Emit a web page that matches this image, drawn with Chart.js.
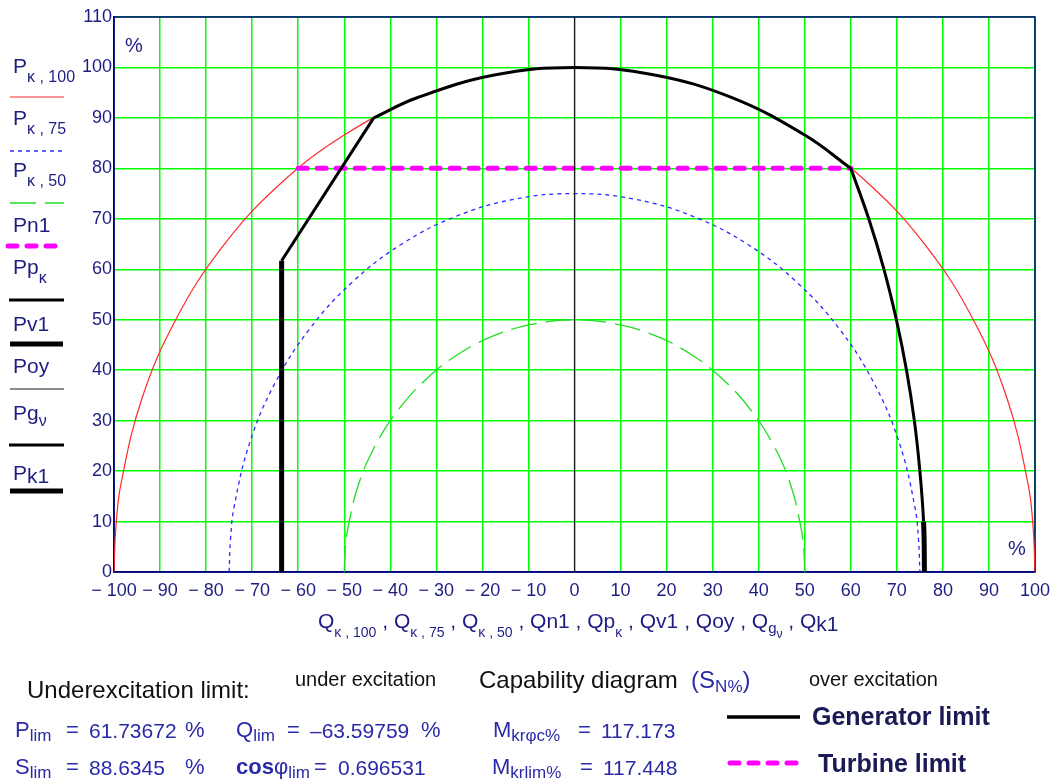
<!DOCTYPE html>
<html>
<head>
<meta charset="utf-8">
<script src="https://cdn.jsdelivr.net/npm/chart.js@4/dist/chart.umd.min.js"></script>
<style>
  body { margin: 0; background: #fff; }
  #wrap { position: relative; width: 1061px; height: 780px; overflow: hidden; font-family: "Liberation Sans", Arial, sans-serif; }
  #chart { position: absolute; left: 0; top: 0; }
  .t { position: absolute; white-space: pre; line-height: 1; }
  .navy { color: #1e1e82; }
  .blue { color: #2a2aa8; }
  .dark { color: #111; }
  .lg { font-size: 21px; }
  .s { font-size: 14px; position: relative; top: 9px; }
  .sl { font-size: 16px; position: relative; top: 9px; }
  .s2 { font-size: 17px; position: relative; top: 4px; }
  .s3 { font-size: 12px; position: relative; top: 5px; }
  .v { font-size: 22px; }
  .n { font-size: 21px; }
  .gl { font-size: 25px; font-weight: bold; color: #1a1a55; }
</style>
</head>
<body>
<div id="wrap">
  <canvas id="chart" width="1061" height="780"></canvas>

  <!-- left legend labels -->
  <div class="t navy lg" style="left:13px;top:55px">P<span class="sl">κ , 100</span></div>
  <div class="t navy lg" style="left:13px;top:107px">P<span class="sl">κ , 75</span></div>
  <div class="t navy lg" style="left:13px;top:159px">P<span class="sl">κ , 50</span></div>
  <div class="t navy lg" style="left:13px;top:214px">Pn1</div>
  <div class="t navy lg" style="left:13px;top:256px">Pp<span class="sl">κ</span></div>
  <div class="t navy lg" style="left:13px;top:313px">Pv1</div>
  <div class="t navy lg" style="left:13px;top:355px">Poy</div>
  <div class="t navy lg" style="left:13px;top:402px">Pg<span class="s3" style="top:6px;font-size:16px">ν</span></div>
  <div class="t navy lg" style="left:13px;top:462px">P<span style="position:relative;top:3px">k1</span></div>

  <!-- percent marks in the plot -->
  <div class="t navy" style="left:125px;top:35px;font-size:20px">%</div>
  <div class="t navy" style="left:1008px;top:538px;font-size:20px">%</div>

  <!-- x axis title -->
  <div class="t navy lg" style="left:318px;top:610px">Q<span class="s">κ , 100</span> , Q<span class="s">κ , 75</span> , Q<span class="s">κ , 50</span> , Qn1 , Qp<span class="s">κ</span> , Qv1 , Qoy , Q<span class="s" style="top:5px;font-size:15px">g</span><span class="s3" style="top:10px">ν</span> , Q<span style="position:relative;top:3px">k1</span></div>

  <!-- bottom notes -->
  <div class="t dark" style="left:27px;top:678px;font-size:24px">Underexcitation limit:</div>
  <div class="t dark" style="left:295px;top:669px;font-size:20px">under excitation</div>
  <div class="t dark" style="left:479px;top:668px;font-size:24px">Capability diagram <span class="blue"> (S<span class="s2">N%</span>)</span></div>
  <div class="t dark" style="left:809px;top:669px;font-size:20px">over excitation</div>

  <div class="t blue v" style="left:15px;top:719px">P<span class="s2">lim</span></div>
  <div class="t blue v" style="left:66px;top:719px">=</div>
  <div class="t blue n" style="left:89px;top:720px">61.73672</div>
  <div class="t blue v" style="left:185px;top:719px">%</div>
  <div class="t blue v" style="left:236px;top:719px">Q<span class="s2">lim</span></div>
  <div class="t blue v" style="left:287px;top:719px">=</div>
  <div class="t blue n" style="left:310px;top:720px">–63.59759</div>
  <div class="t blue v" style="left:421px;top:719px">%</div>
  <div class="t blue v" style="left:493px;top:719px">M<span class="s2">krφc%</span></div>
  <div class="t blue v" style="left:578px;top:719px">=</div>
  <div class="t blue n" style="left:601px;top:720px">117.173</div>

  <div class="t blue v" style="left:15px;top:756px">S<span class="s2">lim</span></div>
  <div class="t blue v" style="left:66px;top:756px">=</div>
  <div class="t blue n" style="left:89px;top:757px">88.6345</div>
  <div class="t blue v" style="left:185px;top:756px">%</div>
  <div class="t blue v" style="left:236px;top:756px"><b>cos</b>φ<span class="s2">lim</span></div>
  <div class="t blue v" style="left:314px;top:756px">=</div>
  <div class="t blue n" style="left:338px;top:757px">0.696531</div>
  <div class="t blue v" style="left:492px;top:756px">M<span class="s2">krlim%</span></div>
  <div class="t blue v" style="left:580px;top:756px">=</div>
  <div class="t blue n" style="left:603px;top:757px">117.448</div>

  <div class="t gl" style="left:812px;top:704px">Generator limit</div>
  <div class="t gl" style="left:818px;top:751px">Turbine limit</div>
</div>

<script>
// circles of constant apparent power (S = 100, 75, 50 %)
const q100 = [-100, -99.6, -98.5, -94, -86.6, -76.6, -64.3, -50, -34.2, -17.4, 0, 17.4, 34.2, 50, 64.3, 76.6, 86.6, 94, 98.5, 99.6, 100];
const p100 = [0, 8.7, 17.4, 34.2, 50, 64.3, 76.6, 86.6, 94, 98.5, 100, 98.5, 94, 86.6, 76.6, 64.3, 50, 34.2, 17.4, 8.7, 0];
const q75 = [-75, -74.7, -73.9, -70.5, -65, -57.5, -48.2, -37.5, -25.7, -13, 0, 13, 25.7, 37.5, 48.2, 57.5, 65, 70.5, 73.9, 74.7, 75];
const p75 = [0, 6.5, 13, 25.7, 37.5, 48.2, 57.5, 65, 70.5, 73.9, 75, 73.9, 70.5, 65, 57.5, 48.2, 37.5, 25.7, 13, 6.5, 0];
const q50 = [-50, -49.8, -49.2, -47, -43.3, -38.3, -32.1, -25, -17.1, -8.7, 0, 8.7, 17.1, 25, 32.1, 38.3, 43.3, 47, 49.2, 49.8, 50];
const p50 = [0, 4.4, 8.7, 17.1, 25, 32.1, 38.3, 43.3, 47, 49.2, 50, 49.2, 47, 43.3, 38.3, 32.1, 25, 17.1, 8.7, 4.4, 0];

// turbine limit
const qn1 = [-60, 60];
const pn1 = [80, 80];

// generator limit pieces
const qpk = [-43.6, -34.2, -17.4, 0, 17.4, 34.2, 50, 60];
const ppk = [90, 94, 98.5, 100, 98.5, 94, 86.6, 80];
const qv1 = [-63.6, -63.6];
const pv1 = [0, 61.7];
const qoy = [0, 0];
const poy = [0, 110];
const qgv = [-63.6, -43.6];
const pgv = [61.7, 90];
const qk1 = [60, 63.9, 67.2, 69.9, 72.1, 73.8, 75, 75.8, 76];
const pk1 = [80, 70, 60, 50, 40, 30, 20, 10, 0];

const xTicks = [-100, -90, -80, -70, -60, -50, -40, -30, -20, -10, 0, 10, 20, 30, 40, 50, 60, 70, 80, 90, 100];

const pts = (q, p) => q.map((v, i) => ({ x: v, y: p[i] }));

const NAVY = '#000080';
const TICK = '#1e1e82';
const FONT = '"Liberation Sans", Arial, sans-serif';

function line(label, q, p, opts) {
    return Object.assign({
        label: label,
        data: pts(q, p),
        showLine: true,
        pointRadius: 0,
        borderColor: '#000',
        borderWidth: 3,
        tension: 0,
        fill: false
    }, opts);
}

const datasets = [
    line('Pv1', qv1, pv1, { borderWidth: 5 }),
    line('Pk1', qk1, pk1, {
        tension: 0.4,
        segment: { borderWidth: ctx => ctx.p0DataIndex >= 7 ? 5 : 3 }
    }),
    line('Pgv', qgv, pgv, {}),
    line('Ppk', qpk, ppk, { tension: 0.4 }),
    line('Poy', qoy, poy, { borderColor: '#1a1a1a', borderWidth: 1.2 }),
    line('Pn1', qn1, pn1, { borderColor: '#ff00ff', borderWidth: 5, borderDash: [9, 10], borderCapStyle: 'round' }),
    line('Pk100', q100, p100, { borderColor: '#ff2a2a', borderWidth: 1.2, tension: 0.4 }),
    line('Pk75', q75, p75, { borderColor: '#2a2aff', borderWidth: 1.3, borderDash: [4, 4], tension: 0.4 }),
    line('Pk50', q50, p50, { borderColor: '#22dd22', borderWidth: 1.3, borderDash: [26, 9], tension: 0.4 })
];

// legend samples on the left and at the bottom, drawn from the dataset styles
const legendRows = [
    ['Pk100', 97, 10, 64], ['Pk75', 151, 10, 64], ['Pk50', 203, 10, 64], ['Pn1', 246, 8, 64],
    ['Ppk', 300, 9, 64], ['Pv1', 344, 10, 63], ['Poy', 389, 10, 64], ['Pgv', 445, 9, 64], ['Pk1', 491, 10, 63]
];

const extras = {
    id: 'extras',
    beforeDatasetsDraw(chart) {
        const a = chart.chartArea, ctx = chart.ctx;
        ctx.save();
        ctx.strokeStyle = NAVY;
        ctx.lineWidth = 1.5;
        ctx.strokeRect(a.left, a.top, a.right - a.left, a.bottom - a.top);
        ctx.restore();
    },
    afterDraw(chart) {
        const ctx = chart.ctx;
        const byLabel = {};
        chart.data.datasets.forEach(d => byLabel[d.label] = d);
        const stroke = (d, y, x0, x1, w) => {
            ctx.save();
            ctx.beginPath();
            ctx.strokeStyle = d.borderColor;
            ctx.lineWidth = w || d.borderWidth;
            ctx.setLineDash(d.borderDash || []);
            ctx.lineCap = d.borderCapStyle || 'butt';
            ctx.moveTo(x0, y);
            ctx.lineTo(x1, y);
            ctx.stroke();
            ctx.restore();
        };
        legendRows.forEach(r => {
            const d = byLabel[r[0]];
            stroke(d, r[1], r[2], r[3], r[0] === 'Pk1' ? 5 : null);
        });
        stroke(byLabel['Ppk'], 717, 727, 800, 3.5);
        stroke(byLabel['Pn1'], 763, 730, 798);
    }
};

new Chart(document.getElementById('chart'), {
    type: 'scatter',
    data: { datasets: datasets },
    plugins: [extras],
    options: {
        responsive: false,
        animation: false,
        layout: { padding: { left: 64, right: 26, top: 17, bottom: 0 } },
        plugins: { legend: { display: false }, tooltip: { enabled: false } },
        scales: {
            x: {
                type: 'linear',
                min: -100,
                max: 100,
                afterFit: s => { s.height = 208; },
                afterBuildTicks: s => { s.ticks = xTicks.map(v => ({ value: v })); },
                ticks: {
                    color: TICK,
                    font: { family: FONT, size: 18 },
                    padding: 8,
                    maxRotation: 0,
                    autoSkip: false,
                    callback: v => v < 0 ? '\u2212 ' + Math.abs(v) : String(v)
                },
                grid: { color: '#00ff00', lineWidth: 1.5, drawTicks: false },
                border: { display: true, color: NAVY, width: 1.5 }
            },
            y: {
                min: 0,
                max: 110,
                afterFit: s => { s.width = 50; },
                ticks: {
                    stepSize: 10,
                    color: TICK,
                    font: { family: FONT, size: 18 },
                    padding: 2
                },
                grid: { color: '#00ff00', lineWidth: 1.5, drawTicks: false },
                border: { display: true, color: NAVY, width: 1.5 }
            }
        }
    }
});
</script>
</body>
</html>
